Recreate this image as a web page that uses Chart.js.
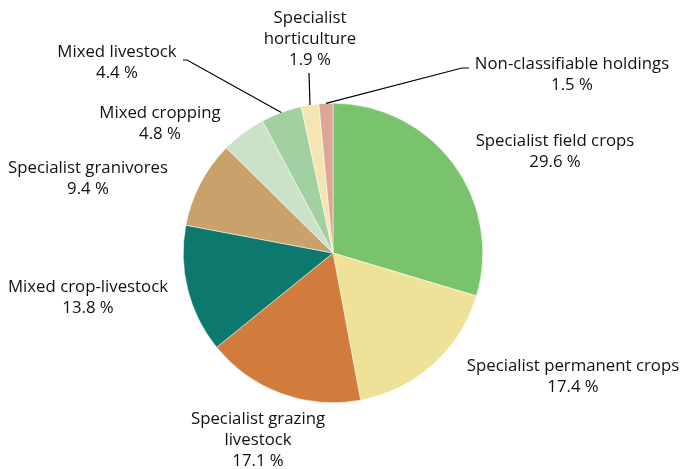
<!DOCTYPE html>
<html>
<head>
<meta charset="utf-8">
<script src="https://cdn.jsdelivr.net/npm/chart.js@4.4.1/dist/chart.umd.min.js"></script>
<style>
  html, body { margin: 0; padding: 0; background: #fff; }
  #wrap { width: 682px; height: 469px; position: relative; }
</style>
</head>
<body>
<div id="wrap"><canvas id="pieChart"></canvas></div>
<script>
const categories = [
  'Specialist field crops', 'Specialist permanent crops', 'Specialist grazing livestock',
  'Mixed crop-livestock', 'Specialist granivores', 'Mixed cropping', 'Mixed livestock',
  'Specialist horticulture', 'Non-classifiable holdings'
];
const shares = [29.6, 17.4, 17.1, 13.8, 9.4, 4.8, 4.4, 1.9, 1.5];
const colors = ['#78c36c', '#f0e198', '#d17b3d', '#0d786d', '#c8a26a', '#cce2c8', '#a3d0a0', '#f3e6b3', '#dca697'];

// label text lines (how each label wraps) and where its block is centred
const labelLines = [
  ['Specialist field crops'], ['Specialist permanent crops'], ['Specialist grazing', 'livestock'],
  ['Mixed crop-livestock'], ['Specialist granivores'], ['Mixed cropping'], ['Mixed livestock'],
  ['Specialist', 'horticulture'], ['Non-classifiable holdings']
];
const labelAt = [
  [555, 141], [573, 366], [258, 419], [88, 287], [88, 168], [160, 113], [117, 52], [310, 18], [572, 64]
];
// leader lines: start point near the label, optional elbow, then to the slice edge
const leaders = {
  6: [[183, 60], [187, 60]],
  7: [[309, 73]],
  8: [[469, 68], [462, 68]]
};

const labelPlugin = {
  id: 'pieLabels',
  afterDraw(chart) {
    const ctx = chart.ctx;
    const arcs = chart.getDatasetMeta(0).data;
    ctx.save();
    ctx.strokeStyle = '#000';
    ctx.lineWidth = 1.2;
    Object.keys(leaders).forEach(k => {
      const a = arcs[k];
      const mid = (a.startAngle + a.endAngle) / 2;
      const ex = a.x + a.outerRadius * Math.cos(mid);
      const ey = a.y + a.outerRadius * Math.sin(mid);
      const pts = leaders[k];
      ctx.beginPath();
      ctx.moveTo(pts[0][0], pts[0][1]);
      for (let i = 1; i < pts.length; i++) ctx.lineTo(pts[i][0], pts[i][1]);
      ctx.lineTo(ex, ey);
      ctx.stroke();
    });
    ctx.fillStyle = '#111';
    ctx.font = '16.8px "Open Sans"';
    ctx.textAlign = 'center';
    ctx.textBaseline = 'middle';
    labelLines.forEach((lines, i) => {
      const [x, y] = labelAt[i];
      const all = lines.concat([shares[i].toFixed(1) + ' %']);
      all.forEach((t, j) => ctx.fillText(t, x, y + j * 21));
    });
    ctx.restore();
  }
};

new Chart(document.getElementById('pieChart'), {
  type: 'pie',
  data: {
    labels: categories,
    datasets: [{ data: shares, backgroundColor: colors, borderWidth: 0.5, borderColor: '#ffffff' }]
  },
  options: {
    responsive: true,
    maintainAspectRatio: false,
    animation: false,
    layout: { padding: { left: 183, right: 199, top: 103, bottom: 66 } },
    plugins: { legend: { display: false }, tooltip: { enabled: false } }
  },
  plugins: [labelPlugin]
});
</script>
</body>
</html>
